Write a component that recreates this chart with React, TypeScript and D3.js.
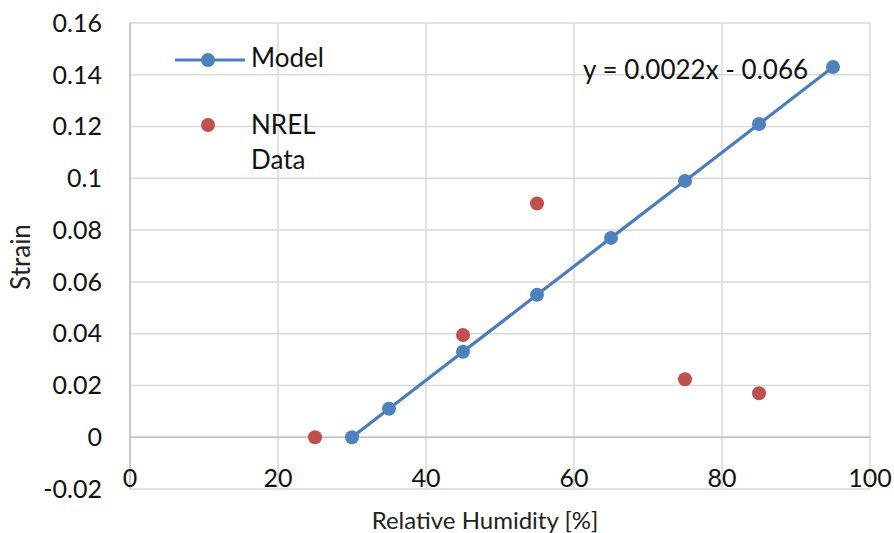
import React from "react";
import * as d3 from "d3";

const modelX = [30, 35, 45, 55, 65, 75, 85, 95];
const modelY = [0, 0.011, 0.033, 0.055, 0.077, 0.099, 0.121, 0.143];
const nrelX = [25, 45, 55, 75, 85];
const nrelY = [0, 0.0395, 0.0903, 0.0224, 0.017];
const xTicks = [0, 20, 40, 60, 80, 100];
const yTicks = [-0.02, 0, 0.02, 0.04, 0.06, 0.08, 0.1, 0.12, 0.14, 0.16];
const yTickLabels = ["-0.02", "0", "0.02", "0.04", "0.06", "0.08", "0.1", "0.12", "0.14", "0.16"];
const equationText = "y = 0.0022x - 0.066";
const legendLabels = ["Model", "NREL", "Data"];

const W = 894;
const H = 533;
const FONT = "Lato, 'Open Sans', sans-serif";
const BLUE = "#4A7EBB";
const BLUE_M = "#4F81BD";
const RED = "#C0504D";
const GRID = "#D9D9D9";

export default function App() {
  const x = d3.scaleLinear().domain([0, 100]).range([130, 870]);
  const y = d3.scaleLinear().domain([-0.02, 0.16]).range([489, 23]);
  const line = d3
    .line<number>()
    .x((_, i) => x(modelX[i]))
    .y((d) => y(d));
  return (
    <svg
      width={W}
      height={H}
      style={{ position: "fixed", left: 0, top: 0, background: "#fff" }}
      fontFamily={FONT}
    >
      <rect width={W} height={H} fill="#fff" />
      {yTicks.map((t) => (
        <line key={"h" + t} x1={x(0)} x2={x(100)} y1={y(t)} y2={y(t)} stroke={GRID} strokeWidth={1.5} />
      ))}
      {xTicks.map((t) => (
        <line key={"v" + t} x1={x(t)} x2={x(t)} y1={y(0.16)} y2={y(-0.02)} stroke={GRID} strokeWidth={1.5} />
      ))}
      <line x1={x(0)} x2={x(100)} y1={y(0)} y2={y(0)} stroke="#BFBFBF" strokeWidth={1.5} />
      <line x1={x(0)} x2={x(0)} y1={y(0.16)} y2={y(-0.02)} stroke="#BFBFBF" strokeWidth={1.5} />
      {yTicks.map((t, i) => (
        <text key={"yl" + t} x={102} y={y(t)} dy="0.35em" textAnchor="end" fontSize={25} fill="#111">
          {yTickLabels[i]}
        </text>
      ))}
      {xTicks.map((t) => (
        <text key={"xl" + t} x={x(t)} y={478} dy="0.35em" textAnchor="middle" fontSize={25} fill="#111">
          {t}
        </text>
      ))}
      <text x={485} y={521} dy="0.35em" textAnchor="middle" fontSize={24} fill="#222">
        Relative Humidity [%]
      </text>
      <text
        transform={`translate(21,257) rotate(-90)`}
        dy="0.35em"
        textAnchor="middle"
        fontSize={26}
        fill="#222"
      >
        Strain
      </text>
      <path d={line(modelY) || ""} fill="none" stroke={BLUE} strokeWidth={3.2} />
      {modelY.map((v, i) => (
        <circle key={"m" + i} cx={x(modelX[i])} cy={y(v)} r={7} fill={BLUE_M} />
      ))}
      {nrelY.map((v, i) => (
        <circle key={"n" + i} cx={x(nrelX[i])} cy={y(v)} r={7} fill={RED} />
      ))}
      <text x={583} y={70} dy="0.35em" fontSize={26} fill="#111">
        {equationText}
      </text>
      <line x1={175} x2={245} y1={60} y2={60} stroke={BLUE} strokeWidth={3.2} />
      <circle cx={208} cy={60} r={7} fill={BLUE_M} />
      <text x={251} y={58} dy="0.35em" fontSize={26} fill="#111">
        {legendLabels[0]}
      </text>
      <circle cx={208} cy={125} r={7} fill={RED} />
      <text x={251} y={125} dy="0.35em" fontSize={26} fill="#111">
        {legendLabels[1]}
      </text>
      <text x={251} y={160} dy="0.35em" fontSize={26} fill="#111">
        {legendLabels[2]}
      </text>
    </svg>
  );
}
